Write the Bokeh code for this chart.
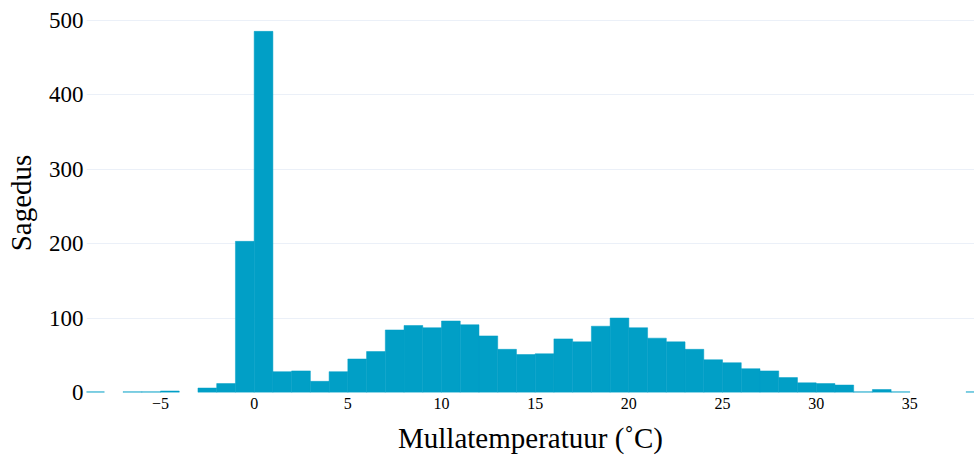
from bokeh.plotting import figure
from bokeh.models import FixedTicker, Range1d, ColumnDataSource
from bokeh.embed import file_html
from bokeh.resources import INLINE

# Histogram of soil temperatures, 1 °C bins from -9 to 39
bin_edges = list(range(-9, 40))
counts = [1, 0, 1, 1, 2, 0, 6, 12, 203, 485,
          28, 29, 15, 28, 45, 55, 84, 90, 87, 96,
          91, 76, 58, 51, 52, 72, 68, 89, 100, 87,
          73, 68, 58, 44, 40, 32, 29, 20, 13, 12,
          10, 1, 4, 1, 0, 0, 0, 1]

x_ticks = [-5, 0, 5, 10, 15, 20, 25, 30, 35]
x_tick_labels = ["−5", "0", "5", "10", "15", "20", "25", "30", "35"]
y_ticks = [0, 100, 200, 300, 400, 500]

x_title = "Mullatemperatuur (˚C)"
y_title = "Sagedus"

BAR = "#019FC6"
GRID = "#EBF0F8"
FONT = "Liberation Serif"

# a hairline outline in the fill colour closes the seams between adjacent
# bars; empty bins get no outline so the baseline stays grid-coloured
source = ColumnDataSource(dict(
    left=bin_edges[:-1],
    right=bin_edges[1:],
    top=counts,
    edge=[BAR if c > 0 else None for c in counts],
))

p = figure(
    width=974, height=457,
    output_backend="svg", toolbar_location=None,
    x_range=Range1d(-8.95, 38.45), y_range=Range1d(0, 509),
    min_border_left=86, min_border_right=0,
    min_border_top=13, min_border_bottom=65,
)
p.outline_line_color = None
p.background_fill_color = "white"
p.border_fill_color = "white"

p.quad(left="left", right="right", bottom=0, top="top", source=source,
       fill_color=BAR, line_color="edge", line_width=0.5)

# grid: horizontal lines only
p.xgrid.visible = False
p.ygrid.grid_line_color = GRID
p.ygrid.grid_line_width = 1
p.ygrid.ticker = FixedTicker(ticks=y_ticks)

for ax in (p.xaxis, p.yaxis):
    ax.axis_line_color = None
    ax.major_tick_line_color = None
    ax.minor_tick_line_color = None
    ax.major_tick_out = 0
    ax.major_tick_in = 0
    ax.minor_tick_out = 0
    ax.minor_tick_in = 0
    ax.major_label_text_font = FONT
    ax.major_label_text_color = "black"
    ax.axis_label_text_font = FONT
    ax.axis_label_text_font_style = "normal"
    ax.axis_label_text_font_size = "29px"
    ax.axis_label_text_color = "black"

# x axis
p.xaxis.ticker = FixedTicker(ticks=x_ticks)
p.xaxis.major_label_overrides = {t: s for t, s in zip(x_ticks, x_tick_labels)}
p.xaxis.major_label_text_font_size = "16px"
p.xaxis.major_label_standoff = 5
p.xaxis.axis_label = x_title
p.xaxis.axis_label_standoff = 10

# y axis
p.yaxis.ticker = FixedTicker(ticks=y_ticks)
p.yaxis.major_label_text_font_size = "23px"
p.yaxis.major_label_standoff = 3
p.yaxis.axis_label = y_title
p.yaxis.axis_label_standoff = 9

open("out.html", "w").write(file_html(p, INLINE))
